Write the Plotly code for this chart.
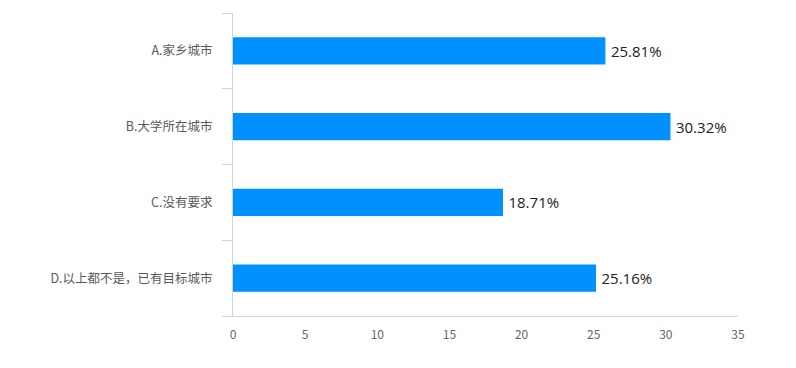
import plotly.graph_objects as go

categories = ["A.家乡城市", "B.大学所在城市", "C.没有要求", "D.以上都不是，已有目标城市"]
values = [25.81, 30.32, 18.71, 25.16]
labels = ["25.81%", "30.32%", "18.71%", "25.16%"]
x_ticks = [0, 5, 10, 15, 20, 25, 30, 35]

axis_color = "#c9d6ea"
font_family = "Noto Sans CJK SC, Microsoft YaHei, sans-serif"

fig = go.Figure(go.Bar(
    x=values, y=categories, orientation="h",
    marker=dict(color="#0091ff", line=dict(width=0)),
    text=["\u2009" + t for t in labels], textposition="outside", cliponaxis=False,
    textfont=dict(size=15, color="#222222", family="Open Sans, sans-serif"),
    width=0.36,
))

fig.update_layout(
    width=780, height=352,
    margin=dict(l=225, r=50, t=5, b=44),
    paper_bgcolor="white", plot_bgcolor="white",
    showlegend=False,
    font=dict(family=font_family),
)
fig.update_xaxes(
    range=[0, 35], tickvals=x_ticks, showgrid=False, zeroline=False,
    showline=True, linecolor=axis_color, linewidth=1,
    ticks="", tickfont=dict(size=12, color="#666666"),
    ticklabelstandoff=8,
)
fig.update_yaxes(
    categoryorder="array", categoryarray=categories[::-1],
    showgrid=False, zeroline=False,
    showline=True, linecolor=axis_color, linewidth=1,
    ticks="outside", tickson="boundaries", ticklen=10, tickcolor=axis_color,
    tickfont=dict(size=12.5, color="#595959"),
    ticklabelstandoff=17,
)

fig.write_html("out.html")
